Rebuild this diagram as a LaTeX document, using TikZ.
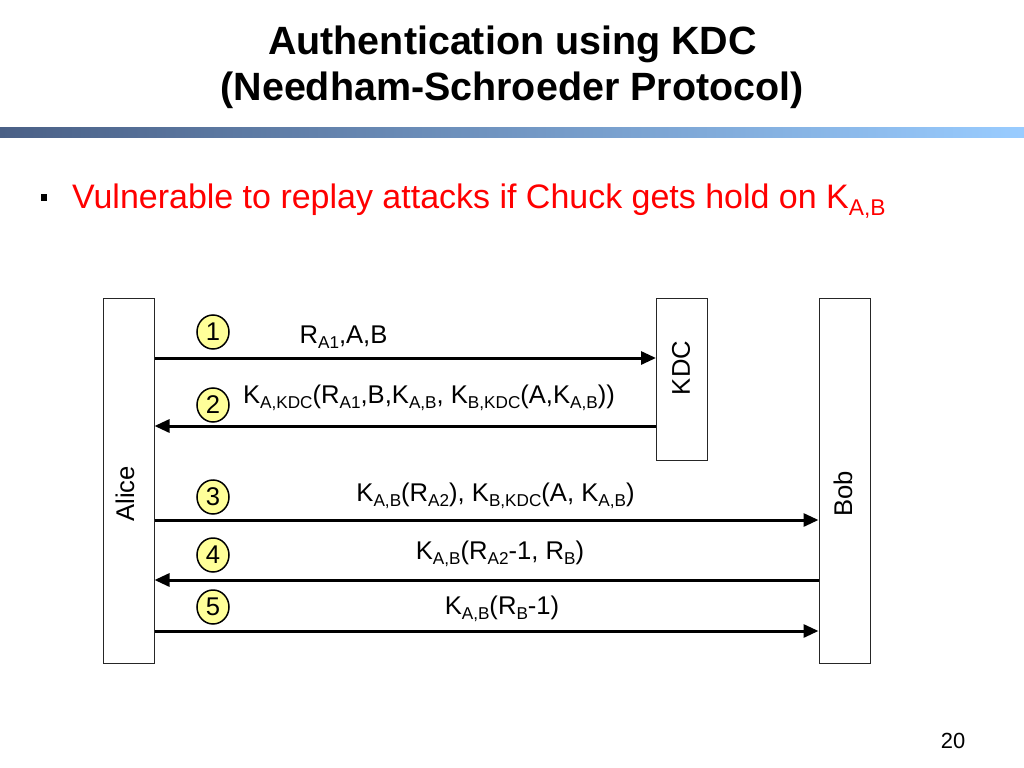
\documentclass[tikz,border=0pt]{standalone}
\usepackage{fontspec}
\setmainfont{Liberation Sans}
\usepackage{tikz}
\usetikzlibrary{arrows.meta, positioning, shapes.geometric, calc}
\definecolor{bardark}{HTML}{4A6086}
\definecolor{barlight}{HTML}{99CCFF}
\definecolor{numfill}{HTML}{FFFF99}
\newcommand{\lo}[1]{\raisebox{-0.22em}{\scalebox{0.67}{#1}}}
\tikzset{party/.style={rectangle,draw=black!85,line width=1bp,minimum width=51bp,inner sep=0pt},
         plabel/.style={rotate=90,inner sep=0pt,font=\fontsize{25.7}{30}\selectfont},
         num/.style={ellipse,draw,line width=1.5bp,fill=numfill,minimum width=32bp,minimum height=34bp,inner sep=0pt,font=\fontsize{25.7}{30}\selectfont},
         msg/.style={anchor=base,inner sep=0pt,font=\fontsize{25.7}{30}\selectfont},
         heading/.style={anchor=base,inner sep=0pt,font=\bfseries\fontsize{39.6}{46}\selectfont},
         arrow/.style={-{Triangle[length=15bp,width=13bp]},line width=3bp}}

\begin{document}
\begin{tikzpicture}[x=1bp,y=-1bp]
    \useasboundingbox (0,0) rectangle (1024,768);
    \node (title) [heading] at (512.5,55) {Authentication using KDC};
    \node (subtitle) [heading] at (512,101) {(Needham-Schroeder Protocol)};
    \shade[left color=bardark,right color=barlight] (0,127) rectangle (1024,137);
    \fill (41,194) rectangle (47,201);
    \node (note) [anchor=base west,inner sep=0pt,text=red,font=\fontsize{34.1}{40}\selectfont] at (72,208) {Vulnerable to replay attacks if Chuck gets hold on K\lo{A,B}};

    \node (alice) [party, minimum height=365bp] at (128.5,480.5) {};
    \node (kdc) [party, minimum height=162bp] at (682,379) {};
    \node (bob) [party, minimum height=365bp] at (844.5,480.5) {};
    \node (alicetxt) [plabel] at (125,494) {Alice};
    \node (kdctxt) [plabel] at (681,368) {KDC};
    \node (bobtxt) [plabel] at (843,494) {Bob};

    \coordinate (y1) at (0,358);
    \coordinate (y2) at (0,426);
    \coordinate (y3) at (0,520);
    \coordinate (y4) at (0,580);
    \coordinate (y5) at (0,631);
    \draw[arrow] (alice.east |- y1) -- (kdc.west |- y1);
    \draw[arrow] (kdc.west |- y2) -- (alice.east |- y2);
    \draw[arrow] (alice.east |- y3) -- (bob.west |- y3);
    \draw[arrow] (bob.west |- y4) -- (alice.east |- y4);
    \draw[arrow] (alice.east |- y5) -- (bob.west |- y5);

    \foreach \i/\y in {1/332,2/405,3/497,4/555,5/607} {\node (n\i) [num] at (213,\y) {\i};}

    \node (m1) [msg] at (343.5,343) {R\lo{A1},A,B};
    \node (m2) [msg] at (429,403) {K\lo{A,KDC}(R\lo{A1},B,K\lo{A,B}, K\lo{B,KDC}(A,K\lo{A,B}))};
    \node (m3) [msg] at (495.5,501) {K\lo{A,B}(R\lo{A2}), K\lo{B,KDC}(A, K\lo{A,B})};
    \node (m4) [msg] at (500,559) {K\lo{A,B}(R\lo{A2}-1, R\lo{B})};
    \node (m5) [msg] at (502,614) {K\lo{A,B}(R\lo{B}-1)};

    \node (page) [anchor=base,inner sep=0pt,font=\fontsize{22}{26}\selectfont] at (953,748) {20};
  \end{tikzpicture}
\end{document}
